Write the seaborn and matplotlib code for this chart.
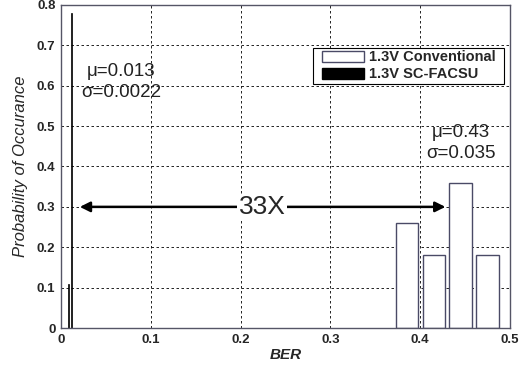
import numpy as np
import pandas as pd
import matplotlib
matplotlib.use("Agg")
import matplotlib.pyplot as plt
from matplotlib.patches import Patch, Rectangle
import seaborn as sns

# BER histogram data (bin centres / probability)
conv_ber = [0.385, 0.415, 0.445, 0.475]
conv_prob = [0.26, 0.18, 0.36, 0.18]
sc_ber = [0.0085, 0.0115]
sc_prob = [0.11, 0.78]

x_ticks = [0, 0.1, 0.2, 0.3, 0.4, 0.5]
x_labels = ["0", "0.1", "0.2", "0.3", "0.4", "0.5"]
y_ticks = [0, 0.1, 0.2, 0.3, 0.4, 0.5, 0.6, 0.7, 0.8]
y_labels = ["0", "0.1", "0.2", "0.3", "0.4", "0.5", "0.6", "0.7", "0.8"]

sns.set_style("white")
plt.rcParams["font.family"] = ["Liberation Sans", "DejaVu Sans"]

conv = pd.DataFrame({"BER": conv_ber, "p": conv_prob})
sc = pd.DataFrame({"BER": sc_ber, "p": sc_prob})

fig = plt.figure(figsize=(5.21, 3.72), dpi=100)
ax = fig.add_axes([0.117, 0.118, 0.862, 0.869])

# bins built from the centres
conv_edges = [c - 0.015 for c in conv_ber] + [conv_ber[-1] + 0.015]
sc_edges = [c - 0.0015 for c in sc_ber] + [sc_ber[-1] + 0.0015]

sns.histplot(data=conv, x="BER", weights="p", bins=conv_edges, shrink=0.83,
             color="white", edgecolor="#4a4a66", linewidth=1.0, alpha=1, ax=ax)
sns.histplot(data=sc, x="BER", weights="p", bins=sc_edges, shrink=0.45,
             color="black", edgecolor="black", linewidth=0.5, alpha=1, ax=ax)

ax.set_xlim(0, 0.5)
ax.set_ylim(0, 0.8)
ax.set_xticks(x_ticks)
ax.set_xticklabels(x_labels, fontweight="bold", fontsize=9.5)
ax.set_yticks(y_ticks)
ax.set_yticklabels(y_labels, fontweight="bold", fontsize=9.5)
ax.tick_params(direction="in", length=3, width=0.8, pad=4)
ax.grid(True, linestyle=(0, (3, 3)), color="black", linewidth=0.6)
ax.set_axisbelow(True)
for s in ax.spines.values():
    s.set_visible(True)
    s.set_color("#555566")
    s.set_linewidth(1.0)

ax.set_xlabel("BER", fontsize=11, fontweight="bold", fontstyle="italic", labelpad=2)
ax.set_ylabel("Probability of Occurance", fontsize=12, fontstyle="italic", labelpad=6)

# annotations
ax.text(0.067, 0.636, "μ=0.013", fontsize=13.5, ha="center", va="center", color="#222222")
ax.text(0.067, 0.584, "σ=0.0022", fontsize=13.5, ha="center", va="center", color="#222222")
ax.text(0.4455, 0.485, "μ=0.43", fontsize=13.5, ha="center", va="center", color="#222222")
ax.text(0.4455, 0.433, "σ=0.035", fontsize=13.5, ha="center", va="center", color="#222222")

ax.annotate("", xy=(0.021, 0.3), xytext=(0.428, 0.3),
            arrowprops=dict(arrowstyle="<|-|>", color="black", lw=1.8,
                            mutation_scale=15, shrinkA=0, shrinkB=0))
ax.text(0.224, 0.3, "33X", fontsize=19, ha="center", va="center",
        bbox=dict(facecolor="white", edgecolor="none", pad=1))

# legend: box drawn separately (wider side padding than matplotlib allows)
ax.add_patch(Rectangle((0.561, 0.755), 0.426, 0.112, transform=ax.transAxes,
                       facecolor="white", edgecolor="black", linewidth=0.8, zorder=4.9))
handles = [Patch(facecolor="white", edgecolor="#4a4a66", label="1.3V Conventional"),
           Patch(facecolor="black", edgecolor="black", label="1.3V SC-FACSU")]
leg = ax.legend(handles=handles, loc="center", bbox_to_anchor=(0.774, 0.811),
                prop={"weight": "bold", "size": 10.5}, frameon=False,
                handlelength=2.9, handleheight=0.8, borderpad=0,
                labelspacing=0.2, handletextpad=0.3, borderaxespad=0)

fig.savefig("out.png", dpi=100)
